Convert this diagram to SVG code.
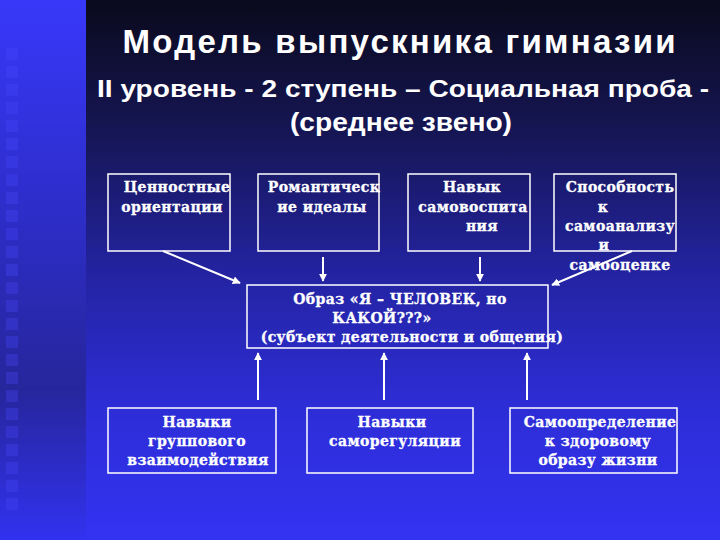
<svg xmlns="http://www.w3.org/2000/svg" width="720" height="540" viewBox="0 0 720 540">
<defs>
<linearGradient id="bgMain" x1="0" y1="0" x2="0" y2="1">
<stop offset="0" stop-color="#0a0a1c"/>
<stop offset="0.25" stop-color="#161656"/>
<stop offset="0.5" stop-color="#2323a0"/>
<stop offset="0.75" stop-color="#2d2dd6"/>
<stop offset="1" stop-color="#3333f2"/>
</linearGradient>
<linearGradient id="bgStrip" x1="0" y1="0" x2="0" y2="1">
<stop offset="0" stop-color="#3838fa"/>
<stop offset="0.4" stop-color="#2d2dc8"/>
<stop offset="0.72" stop-color="#26269c"/>
<stop offset="1" stop-color="#3232f0"/>
</linearGradient>
<marker id="ah" viewBox="0 0 10 10" refX="9" refY="5" markerWidth="4" markerHeight="4" orient="auto" markerUnits="strokeWidth">
<path d="M0,0 L10,5 L0,10 z" fill="#ffffff"/>
</marker>
<style>
.box{fill:none;stroke:#ffffff;stroke-width:1.5}
.bt{font-family:"DejaVu Serif","Liberation Serif",serif;font-weight:bold;font-size:14px;fill:#ffffff;stroke:#ffffff;stroke-width:0.3;text-anchor:middle;letter-spacing:0.4px}
.con{stroke:#ffffff;stroke-width:2;fill:none;marker-end:url(#ah)}
.sq{fill:#4848ff;opacity:0.3}
.ttl{font-family:"Liberation Sans",Arial,sans-serif;font-weight:bold;fill:#ffffff;text-anchor:middle}
</style>
</defs>
<rect x="0" y="0" width="720" height="540" fill="url(#bgMain)"/>
<rect x="0" y="0" width="86" height="540" fill="url(#bgStrip)"/>
<g id="strip-squares">
<rect class="sq" x="6" y="48" width="12" height="12"/>
<rect class="sq" x="6" y="66" width="12" height="12"/>
<rect class="sq" x="6" y="84" width="12" height="12"/>
<rect class="sq" x="6" y="102" width="12" height="12"/>
<rect class="sq" x="6" y="120" width="12" height="12"/>
<rect class="sq" x="6" y="138" width="12" height="12"/>
<rect class="sq" x="6" y="156" width="12" height="12"/>
<rect class="sq" x="6" y="174" width="12" height="12"/>
<rect class="sq" x="6" y="192" width="12" height="12"/>
<rect class="sq" x="6" y="210" width="12" height="12"/>
<rect class="sq" x="6" y="228" width="12" height="12"/>
<rect class="sq" x="6" y="246" width="12" height="12"/>
<rect class="sq" x="6" y="264" width="12" height="12"/>
<rect class="sq" x="6" y="282" width="12" height="12"/>
<rect class="sq" x="6" y="300" width="12" height="12"/>
<rect class="sq" x="6" y="318" width="12" height="12"/>
<rect class="sq" x="6" y="336" width="12" height="12"/>
<rect class="sq" x="6" y="354" width="12" height="12"/>
<rect class="sq" x="6" y="372" width="12" height="12"/>
<rect class="sq" x="6" y="390" width="12" height="12"/>
<rect class="sq" x="6" y="408" width="12" height="12"/>
<rect class="sq" x="6" y="426" width="12" height="12"/>
<rect class="sq" x="6" y="444" width="12" height="12"/>
<rect class="sq" x="6" y="462" width="12" height="12"/>
<rect class="sq" x="6" y="480" width="12" height="12"/>
<rect class="sq" x="6" y="498" width="12" height="12"/>
</g>
<g id="title">
<text class="ttl" x="399" y="53" font-size="33" textLength="553" lengthAdjust="spacing">Модель выпускника гимназии</text>
<text class="ttl" x="403" y="97" font-size="24" textLength="612" lengthAdjust="spacingAndGlyphs">II уровень - 2 ступень – Социальная проба -</text>
<text class="ttl" x="401" y="131" font-size="26" textLength="222" lengthAdjust="spacingAndGlyphs">(среднее звено)</text>
</g>
<g id="connectors">
<line class="con" x1="163" y1="251" x2="240" y2="283"/>
<line class="con" x1="323" y1="257" x2="323" y2="281"/>
<line class="con" x1="480" y1="257" x2="480" y2="281"/>
<line class="con" x1="632" y1="251" x2="552" y2="285"/>
<line class="con" x1="258" y1="400" x2="258" y2="353"/>
<line class="con" x1="384" y1="400" x2="384" y2="353"/>
<line class="con" x1="527" y1="400" x2="527" y2="353"/>
</g>
<g id="n1">
<rect class="box" x="108" y="174" width="122" height="77"/>
<text class="bt" x="177" y="192">Ценностные</text>
<text class="bt" x="172" y="212">ориентации</text>
</g>
<g id="n2">
<rect class="box" x="258" y="174" width="121" height="77"/>
<text class="bt" x="324" y="192">Романтическ</text>
<text class="bt" x="322" y="212">ие идеалы</text>
</g>
<g id="n3">
<rect class="box" x="408" y="174" width="122" height="77"/>
<text class="bt" x="472" y="192">Навык</text>
<text class="bt" x="473" y="212">самовоспита</text>
<text class="bt" x="482" y="231">ния</text>
</g>
<g id="n4">
<rect class="box" x="554" y="174" width="122" height="77"/>
<text class="bt" x="620" y="192">Способность</text>
<text class="bt" x="603" y="212">к</text>
<text class="bt" x="620" y="231">самоанализу</text>
<text class="bt" x="604" y="250">и</text>
<text class="bt" x="620" y="270">самооценке</text>
</g>
<g id="center">
<rect class="box" x="247" y="285" width="301" height="63"/>
<text class="bt" x="400" y="304">Образ «Я – ЧЕЛОВЕК, но</text>
<text class="bt" x="382" y="323">КАКОЙ???»</text>
<text class="bt" x="412" y="342">(субъект деятельности и общения)</text>
</g>
<g id="n5">
<rect class="box" x="108" y="408" width="168" height="65"/>
<text class="bt" x="197" y="427">Навыки</text>
<text class="bt" x="197" y="446">группового</text>
<text class="bt" x="198" y="465">взаимодействия</text>
</g>
<g id="n6">
<rect class="box" x="307" y="408" width="166" height="65"/>
<text class="bt" x="392" y="427">Навыки</text>
<text class="bt" x="395" y="446">саморегуляции</text>
</g>
<g id="n7">
<rect class="box" x="510" y="408" width="167" height="65"/>
<text class="bt" x="600" y="427">Самоопределение</text>
<text class="bt" x="598" y="446">к здоровому</text>
<text class="bt" x="598" y="465">образу жизни</text>
</g>
</svg>
